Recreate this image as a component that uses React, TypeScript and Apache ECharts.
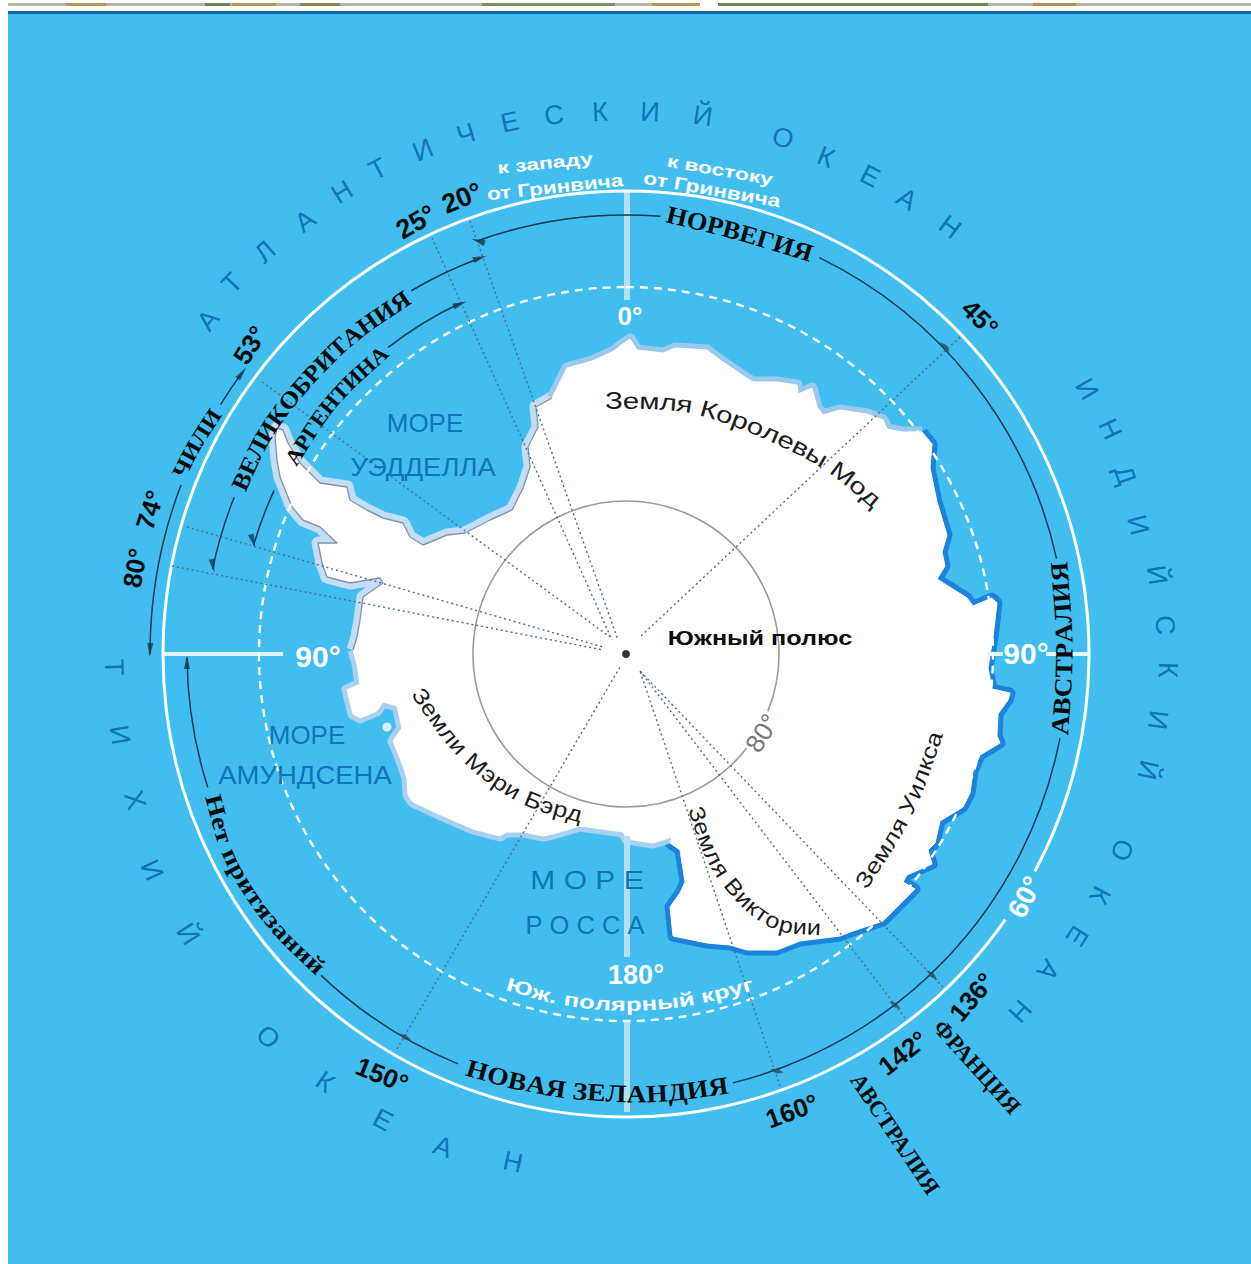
import React, { useEffect, useRef } from "react";
import * as echarts from "echarts";

const WIDTH = 1251;
const HEIGHT = 1264;
const POLE: [number, number] = [626, 654];
const SEA = "#41BEEF";
const INK = "#0B0B0B";
const SEA_INK = "#1272BA";
const SANS = "'Liberation Sans'";
const SERIF = "'Liberation Serif'";

// ---- Coast (white edge), clockwise, split by colour of the ice band ----
const coastWest: number[][] = [
  [353, 650], [357, 637], [360, 620], [363, 597], [383, 583], [380, 578], [350, 583], [327, 577], [322, 563], [318, 543],
  [337, 543], [320, 527], [303, 520], [292, 507], [280, 477], [277, 460], [275, 437], [277, 428], [283, 430], [288, 443],
  [300, 463], [320, 483], [347, 487], [350, 500], [367, 510], [383, 518], [403, 523], [410, 537], [423, 545], [447, 535],
  [465, 533], [490, 520], [512, 510], [523, 488], [530, 467], [528, 447], [538, 427], [536, 407], [552, 398],
];
const coastNorth: number[][] = [
  [552, 398], [567, 368], [592, 361], [614, 351], [620, 346], [630, 339], [637, 350], [663, 353], [675, 348],
  [707, 350], [720, 360], [745, 377], [753, 382], [777, 382], [797, 385], [798, 394], [812, 388], [817, 407],
  [823, 415], [840, 410], [867, 414], [883, 420], [887, 429], [902, 432], [922, 432],
];
const coastEast: number[][] = [
  [922, 432], [932, 444], [930, 468], [937, 502], [947, 535], [942, 552], [945, 566], [937, 579], [967, 598],
  [973, 606], [992, 598], [997, 603], [993, 637], [988, 668], [992, 689], [1010, 693], [1008, 700], [998, 714],
  [997, 736], [1000, 743], [980, 755], [973, 771], [970, 793], [963, 807], [940, 821], [935, 843], [928, 850],
  [932, 864], [907, 875], [903, 882], [915, 889], [893, 911], [883, 921], [850, 932], [840, 936], [800, 941],
  [777, 950], [747, 950], [730, 945], [707, 943], [673, 936], [670, 907], [680, 893], [685, 882], [680, 850],
  [670, 843], [672, 837],
];
const coastSouth: number[][] = [
  [672, 837], [653, 843], [627, 839], [623, 832], [580, 826], [553, 834], [543, 836], [523, 832], [507, 832],
  [500, 836], [473, 829], [443, 816], [413, 802], [408, 795], [407, 778], [400, 758], [393, 741], [402, 728],
  [397, 706], [383, 702], [377, 711], [360, 718], [353, 714], [347, 690], [360, 684], [357, 664], [353, 650],
];
const islands: number[][] = [[387, 727]];
const poleMark: number[][] = [[626, 654]];

// ---- Rings: radius, from bearing, to bearing (degrees clockwise from north) ----
const whiteRing: number[][] = [[463, 125, 360], [463, 0, 118]];
const polarCircle: number[][] = [[367, 0, 360]];
const latitude80: number[][] = [[153, 128, 360], [153, 0, 112]];
const claimArcs: number[][] = [
  [439, 340.3, 364.5], [441, 26, 77.5], [442, 101, 166], [443, 202.3, 223.5], [439, 252.3, 269.5],
  [422, 281.6, 291.8], [422, 329.4, 339.8], [388, 286.3, 294.9], [388, 322.2, 334.6],
  [476, 270, 290.8], [476, 301.6, 306.2],
];

// ---- Meridians and the graticule spokes ----
const meridians: number[][] = [
  [470, 221, 618, 640], [432, 238, 612, 640], [262, 382, 610, 637], [187, 527, 603, 647], [172, 566, 603, 650],
  [960, 337, 640, 637], [397, 1049, 620, 667], [780, 1086, 640, 671], [905, 1018, 640, 671], [943, 987, 640, 671],
];
const paleSpokes: number[][] = [
  [627, 192, 627, 300], [627, 836, 627, 957], [627, 1021, 627, 1112],
];
const brightSpokes: number[][] = [
  [163, 654, 283, 654], [1046, 654, 1090, 654], [988, 654, 1003, 654],
];

// ---- Arrow heads: x, y, rotation ----
const arrowHeads: number[][] = [
  [150, 650, 178], [213, 566, 190], [253, 541, 198], [242, 373, -36], [480, 258, -72], [460, 304, -68],
  [478, 241, 72], [187, 662, 0],
];
const crossMarks: number[][] = [
  [945, 347, 45], [405, 1037, 62], [777, 1071, 75], [895, 1005, 55], [932, 975, 48],
];

// ---- Ocean names, letter by letter ----
const atlantic: [string, number, number][] = [
  ["А", 208, 320], ["Т", 232, 283], ["Л", 265, 252], ["А", 305, 221], ["Н", 342, 192], ["Т", 378, 169],
  ["И", 423, 150], ["Ч", 466, 134], ["Е", 510, 122], ["С", 554, 115], ["К", 600, 112], ["И", 650, 112],
  ["Й", 703, 116], ["О", 783, 138], ["К", 826, 157], ["Е", 870, 176], ["А", 907, 199], ["Н", 950, 227],
];
const indian: [string, number, number][] = [
  ["И", 1087, 389], ["Н", 1110, 429], ["Д", 1125, 475], ["И", 1138, 525], ["Й", 1157, 575], ["С", 1165, 625],
  ["К", 1168, 670], ["И", 1158, 720], ["Й", 1148, 770], ["О", 1122, 850], ["К", 1100, 895], ["Е", 1077, 936],
  ["А", 1048, 970], ["Н", 1020, 1011],
];
const pacific: [string, number, number][] = [
  ["Т", 114, 667], ["И", 120, 735], ["Х", 135, 800], ["И", 152, 870], ["Й", 188, 934], ["О", 268, 1037],
  ["К", 325, 1082], ["Е", 383, 1120], ["А", 443, 1147], ["Н", 513, 1162],
];

// ---- Straight labels: text, x, y, rotation, size, colour, weight, family, x-stretch ----
type Lab = [string, number, number, number, number, string, string, string, number];
const straightLabels: Lab[] = [
  ["25°", 416, 222, -30, 27, INK, "bold", SANS, 1],
  ["20°", 462, 198, -22, 27, INK, "bold", SANS, 1],
  ["53°", 250, 345, -58, 26, INK, "bold", SANS, 1],
  ["74°", 150, 510, -72, 26, INK, "bold", SANS, 1],
  ["80°", 135, 568, -80, 26, INK, "bold", SANS, 1],
  ["45°", 980, 318, 45, 26, INK, "bold", SANS, 1],
  ["150°", 382, 1075, 22, 26, INK, "bold", SANS, 1],
  ["160°", 792, 1111, -20, 26, INK, "bold", SANS, 1],
  ["142°", 903, 1053, -38, 26, INK, "bold", SANS, 1],
  ["136°", 972, 997, -50, 26, INK, "bold", SANS, 1],
  ["0°", 630, 316, 0, 26, "#FFFFFF", "bold", SANS, 1],
  ["90°", 318, 656, 0, 30, "#FFFFFF", "bold", SANS, 1],
  ["90°", 1026, 653, 0, 30, "#FFFFFF", "bold", SANS, 1],
  ["180°", 636, 975, 0, 27, "#FFFFFF", "bold", SANS, 1],
  ["60°", 1025, 897, -62, 28, "#FFFFFF", "bold", SANS, 1],
  ["80°", 762, 733, -58, 26, "#777777", "normal", SANS, 1],
  ["Южный полюс", 760, 638, 0, 21, INK, "bold", SANS, 1.2],
  ["к западу", 545, 163, -6, 17, "#FFFFFF", "bold", SANS, 1.35],
  ["от Гринвича", 555, 187, -6, 18, "#FFFFFF", "bold", SANS, 1.25],
  ["к востоку", 720, 170, 10, 17, "#FFFFFF", "bold", SANS, 1.35],
  ["от Гринвича", 712, 189, 10, 18, "#FFFFFF", "bold", SANS, 1.27],
  ["ФРАНЦИЯ", 977, 1067, 48, 23, INK, "bold", SERIF, 1],
  ["АВСТРАЛИЯ", 895, 1134, 56, 23, INK, "bold", SERIF, 0.98],
  ["МОРЕ", 425, 423, 0, 26, SEA_INK, "normal", SANS, 1],
  ["УЭДДЕЛЛА", 423, 467, 0, 25, SEA_INK, "normal", SANS, 1.1],
  ["МОРЕ", 307, 735, 0, 26, SEA_INK, "normal", SANS, 1],
  ["АМУНДСЕНА", 305, 775, 0, 25, SEA_INK, "normal", SANS, 1.1],
  ["М О Р Е", 587, 880, 0, 25, SEA_INK, "normal", SANS, 1.2],
  ["Р О С С А", 585, 925, 0, 25, SEA_INK, "normal", SANS, 1.02],
];

// ---- Labels that follow a curve: text, size, colour, weight, family, path ----
type Curved = [string, number, string, string, string, number[][]];
const curvedLabels: Curved[] = [
  ["НОРВЕГИЯ", 25, INK, "bold", SERIF, [[667, 214], [737, 231], [812, 254]]],
  ["НОВАЯ ЗЕЛАНДИЯ", 25, INK, "bold", SERIF, [[467, 1067], [530, 1085], [600, 1094], [665, 1094], [728, 1085]]],
  ["АВСТРАЛИЯ", 25, INK, "bold", SERIF, [[1060, 735], [1066, 650], [1059, 562]]],
  ["ЧИЛИ", 22, INK, "bold", SERIF, [[178, 476], [195, 443], [216, 411]]],
  ["ВЕЛИКОБРИТАНИЯ", 24, INK, "bold", SERIF, [[238, 489], [265, 430], [305, 380], [350, 335], [408, 296]]],
  ["АРГЕНТИНА", 22, INK, "bold", SERIF, [[290, 463], [330, 400], [385, 350]]],
  ["Нет притязаний", 24, INK, "bold", SERIF, [[213, 795], [230, 859], [273, 924], [322, 970]]],
  ["Земля Королевы Мод", 23, "#1C1C1C", "normal", SANS, [[605, 401], [660, 401], [705, 407], [770, 432], [830, 462], [878, 503]]],
  ["Земли Мэри Бэрд", 22, "#1C1C1C", "normal", SANS, [[417, 690], [463, 755], [523, 799], [582, 815]]],
  ["Земля Виктории", 22, "#1C1C1C", "normal", SANS, [[695, 807], [717, 871], [770, 925], [821, 928]]],
  ["Земля Уилкса", 22, "#1C1C1C", "normal", SANS, [[860, 886], [907, 814], [936, 732]]],
  ["Юж. полярный круг", 19, "#FFFFFF", "bold", SANS, [[507, 984], [563, 1000], [626, 1006], [693, 1000], [753, 984]]],
];

type Glyph = { text: string; x: number; y: number; rot: number; size: number; color: string; weight: string; family: string; sx: number };

function smooth(points: number[][]): number[][] {
  let p = points;
  for (let k = 0; k < 3; k++) {
    const q: number[][] = [p[0]];
    for (let i = 0; i < p.length - 1; i++) {
      q.push([p[i][0] * 0.75 + p[i + 1][0] * 0.25, p[i][1] * 0.75 + p[i + 1][1] * 0.25]);
      q.push([p[i][0] * 0.25 + p[i + 1][0] * 0.75, p[i][1] * 0.25 + p[i + 1][1] * 0.75]);
    }
    q.push(p[p.length - 1]);
    p = q;
  }
  return p;
}

function layoutCurved(c: Curved, out: Glyph[]) {
  const [text, size, color, weight, family, raw] = c;
  const path = smooth(raw);
  const cum = [0];
  for (let i = 1; i < path.length; i++) cum.push(cum[i - 1] + Math.hypot(path[i][0] - path[i - 1][0], path[i][1] - path[i - 1][1]));
  const L = cum[cum.length - 1];
  const at = (s: number) => {
    const t = Math.max(0, Math.min(L, s));
    let i = 1;
    while (i < cum.length - 1 && cum[i] < t) i++;
    const f = (t - cum[i - 1]) / Math.max(1e-6, cum[i] - cum[i - 1]);
    return [path[i - 1][0] + (path[i][0] - path[i - 1][0]) * f, path[i - 1][1] + (path[i][1] - path[i - 1][1]) * f];
  };
  const ctx = document.createElement("canvas").getContext("2d")!;
  ctx.font = `${weight} ${size}px ${family}`;
  const chars = Array.from(text);
  const widths = chars.map((ch) => ctx.measureText(ch).width);
  const total = widths.reduce((a, b) => a + b, 0);
  const stretch = L / total;
  let s = 0;
  chars.forEach((ch, i) => {
    const w = widths[i] * stretch;
    const mid = s + w / 2;
    if (ch !== " ") {
      const a = at(mid - 6);
      const b = at(mid + 6);
      const [x, y] = at(mid);
      out.push({ text: ch, x, y, rot: (Math.atan2(b[1] - a[1], b[0] - a[0]) * 180) / Math.PI, size, color, weight, family, sx: stretch });
    }
    s += w;
  });
}

function buildGlyphs(): Glyph[] {
  const out: Glyph[] = [];
  const bearing = (x: number, y: number) => (Math.atan2(x - POLE[0], POLE[1] - y) * 180) / Math.PI;
  const ocean = (list: [string, number, number][], flip: number) =>
    list.forEach(([text, x, y]) =>
      out.push({ text, x, y, rot: bearing(x, y) + flip, size: 27, color: SEA_INK, weight: "normal", family: SANS, sx: 1 }),
    );
  ocean(atlantic, 0);
  ocean(indian, 0);
  ocean(pacific, 180);
  straightLabels.forEach(([text, x, y, rot, size, color, weight, family, sx]) =>
    out.push({ text, x, y, rot, size, color, weight, family, sx }),
  );
  curvedLabels.forEach((c) => layoutCurved(c, out));
  return out;
}

const arcSeries = (data: number[][], stroke: string, lineWidth: number, lineDash: number[] | null, z: number) => ({
  type: "custom",
  coordinateSystem: "cartesian2d",
  clip: false,
  silent: true,
  z,
  data: data.map((d) => [POLE[0], POLE[1], d[0], d[1], d[2]]),
  encode: { x: 0, y: 1 },
  renderItem: (_: any, api: any) => {
    const c = api.coord([api.value(0), api.value(1)]);
    const r = api.size([api.value(2), 0])[0];
    const toAngle = (deg: number) => ((deg - 90) * Math.PI) / 180;
    return {
      type: "arc",
      shape: { cx: c[0], cy: c[1], r, startAngle: toAngle(api.value(3)), endAngle: toAngle(api.value(4)), clockwise: true },
      style: { fill: "none", stroke, lineWidth, lineDash: lineDash || undefined },
    };
  },
});

const segmentSeries = (data: number[][], stroke: string, lineWidth: number, lineDash: number[] | null, z: number) => ({
  type: "custom",
  coordinateSystem: "cartesian2d",
  clip: false,
  silent: true,
  z,
  data,
  encode: { x: [0, 2], y: [1, 3] },
  renderItem: (_: any, api: any) => {
    const a = api.coord([api.value(0), api.value(1)]);
    const b = api.coord([api.value(2), api.value(3)]);
    return {
      type: "line",
      shape: { x1: a[0], y1: a[1], x2: b[0], y2: b[1] },
      style: { stroke, lineWidth, lineDash: lineDash || undefined },
    };
  },
});

const coastSeries = (data: number[][], color: string, width: number, z: number) => ({
  type: "line",
  data,
  symbol: "none",
  clip: false,
  silent: true,
  z,
  lineStyle: { color, width, join: "round" },
});

const stripePieces: [number, number, string][] = [
  [8, 1243, "#B4B5A6"], [66, 40, "#B09A55"], [205, 25, "#6F8055"], [232, 44, "#B09A55"], [300, 40, "#8A8450"],
  [482, 133, "#7E8C5E"], [652, 48, "#B39A58"], [700, 18, "#FFFFFF"], [718, 270, "#6F8355"], [1033, 43, "#B48F55"],
];

export default function App() {
  const ref = useRef<HTMLDivElement>(null);
  useEffect(() => {
    const chart = echarts.init(ref.current!, undefined, { renderer: "svg" });
    const glyphs = buildGlyphs();
    const land = [...coastWest, ...coastNorth, ...coastEast, ...coastSouth];
    chart.setOption({
      animation: false,
      backgroundColor: "#FFFFFF",
      grid: { left: 0, right: 0, top: 0, bottom: 0 },
      xAxis: { type: "value", min: 0, max: WIDTH, show: false },
      yAxis: { type: "value", min: 0, max: HEIGHT, inverse: true, show: false },
      graphic: [
        ...stripePieces.map(([x, width, fill]) => ({ type: "rect", z: 0, shape: { x, y: 3, width, height: 3 }, style: { fill } })),
        { type: "rect", z: 0, shape: { x: 8, y: 11, width: WIDTH - 8, height: HEIGHT - 11 }, style: { fill: SEA } },
        { type: "rect", z: 0, shape: { x: 8, y: 11, width: WIDTH - 8, height: 3 }, style: { fill: "#10689E" } },
      ],
      series: [
        coastSeries(coastWest, "#C3DDF4", 13, 2),
        coastSeries(coastNorth, "#9CC8EE", 11, 2),
        coastSeries(coastEast, "#1C83DC", 11, 2),
        coastSeries(coastSouth, "#A8D0F0", 11, 2),
        {
          type: "custom",
          coordinateSystem: "cartesian2d",
          clip: false,
          silent: true,
          z: 3,
          data: [[0, 0]],
          encode: { x: 0, y: 1 },
          renderItem: (_: any, api: any) => ({
            type: "polygon",
            shape: { points: land.map((p) => api.coord(p)) },
            style: { fill: "#FFFFFF", stroke: "#FFFFFF", lineWidth: 1 },
          }),
        },
        coastSeries(coastWest, "#8294AC", 1.4, 4),
        {
          type: "scatter",
          data: islands,
          symbol: "circle",
          symbolSize: 9,
          silent: true,
          z: 3,
          itemStyle: { color: "#FFFFFF" },
        },
        segmentSeries(paleSpokes, "#B4E0F6", 6, null, 4),
        segmentSeries(brightSpokes, "#E3F5FC", 4, null, 4),
        arcSeries(latitude80, "#9A9A9A", 1.6, null, 5),
        arcSeries(polarCircle, "#FFFFFF", 2.4, [8, 6], 5),
        arcSeries(whiteRing, "#FFFFFF", 3, null, 5),
        segmentSeries(meridians, "#4C6F86", 1.4, [2, 3], 6),
        arcSeries(claimArcs, "#17384E", 1.5, null, 7),
        {
          type: "scatter",
          data: poleMark,
          symbol: "circle",
          symbolSize: 8,
          silent: true,
          z: 8,
          itemStyle: { color: "#000000" },
        },
        {
          type: "scatter",
          data: arrowHeads.map((a) => ({ value: [a[0], a[1]], symbolRotate: a[2] })),
          symbol: "triangle",
          symbolSize: [6, 14],
          silent: true,
          z: 8,
          itemStyle: { color: "#17384E" },
        },
        {
          type: "scatter",
          data: crossMarks.map((a) => ({ value: [a[0], a[1]], symbolRotate: a[2] })),
          symbol: "diamond",
          symbolSize: [5, 14],
          silent: true,
          z: 8,
          itemStyle: { color: "#2A4A5E" },
        },
        {
          type: "custom",
          coordinateSystem: "cartesian2d",
          clip: false,
          silent: true,
          z: 10,
          data: glyphs.map((g, i) => [g.x, g.y, i]),
          encode: { x: 0, y: 1 },
          renderItem: (_: any, api: any) => {
            const g = glyphs[api.value(2)];
            const c = api.coord([api.value(0), api.value(1)]);
            return {
              type: "text",
              x: c[0],
              y: c[1],
              rotation: (-g.rot * Math.PI) / 180,
              scaleX: g.sx,
              style: {
                x: 0,
                y: 0,
                text: g.text,
                fill: g.color,
                fontSize: g.size,
                fontWeight: g.weight,
                fontFamily: g.family,
                align: "center",
                verticalAlign: "middle",
              },
            };
          },
        },
      ],
    });
    return () => chart.dispose();
  }, []);
  return <div ref={ref} style={{ position: "fixed", left: 0, top: 0, width: WIDTH, height: HEIGHT }} />;
}
